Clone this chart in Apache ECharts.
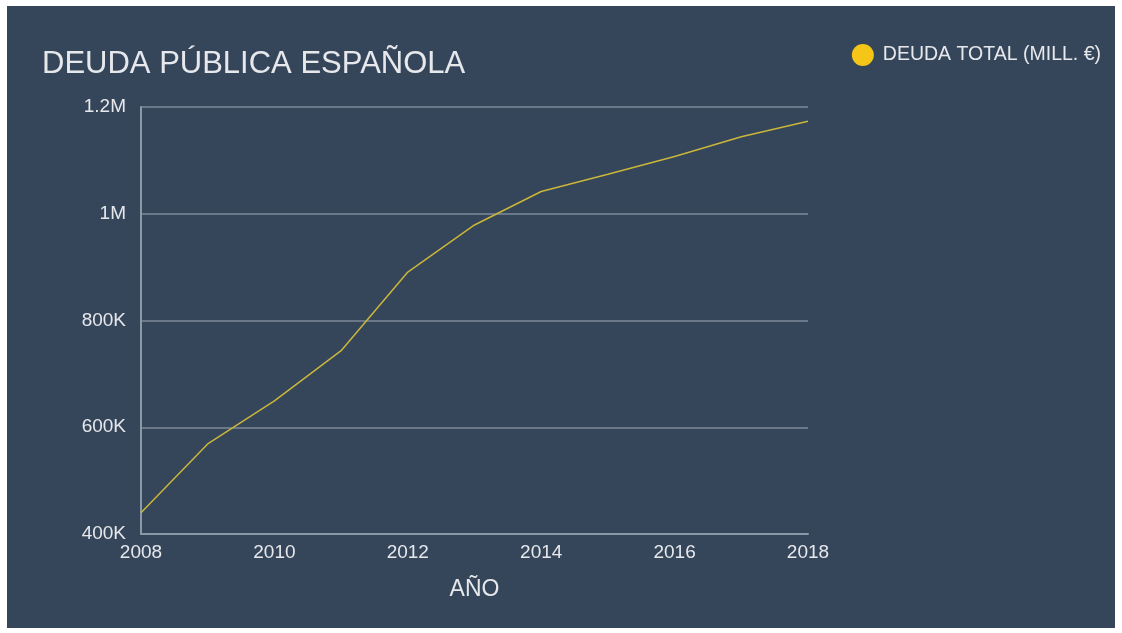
<!DOCTYPE html>
<html><head><meta charset="utf-8">
<script src="https://cdn.jsdelivr.net/npm/echarts@6/dist/echarts.min.js"></script>
<style>html,body{margin:0;padding:0;background:#fff;}#c{position:absolute;left:7px;top:6px;width:1108px;height:622px;}</style>
</head><body><div id="c"></div>
<script>
const years = [2008, 2009, 2010, 2011, 2012, 2013, 2014, 2015, 2016, 2017, 2018];
const debt = [439771, 568700, 649259, 743531, 890726, 978979, 1041624, 1073934, 1107220, 1144425, 1173349];
const yTickLabels = {400000: '400K', 600000: '600K', 800000: '800K', 1000000: '1M', 1200000: '1.2M'};
const chart = echarts.init(document.getElementById('c'));
const font = 'Liberation Sans, Arial, sans-serif';
chart.setOption({
  backgroundColor: '#36465a',
  title: { text: 'DEUDA PÚBLICA ESPAÑOLA', left: 30, top: 38, padding: 5,
    textStyle: { color: '#e6e8ec', fontSize: 31, fontWeight: 'normal', fontFamily: font } },
  legend: { right: 9, top: 33, icon: 'circle', itemWidth: 22, itemHeight: 22, itemGap: 8,
    textStyle: { color: '#e6e8ec', fontSize: 19.5, fontFamily: font, padding: [0, 0, 0, 4] } },
  grid: { left: 134, top: 101, width: 667, height: 427 },
  xAxis: { type: 'value', min: 2008, max: 2018, interval: 2,
    name: 'AÑO', nameLocation: 'middle', nameGap: 44,
    nameTextStyle: { color: '#e6e8ec', fontSize: 23, fontFamily: font },
    axisLine: { show: true, lineStyle: { color: '#8c99a8', width: 2 } },
    axisTick: { show: false }, splitLine: { show: false },
    axisLabel: { color: '#e6e8ec', fontSize: 19, fontFamily: font, margin: 9, formatter: v => String(v) } },
  yAxis: { type: 'value', min: 400000, max: 1200000, interval: 200000,
    axisLine: { show: true, lineStyle: { color: '#8c99a8', width: 2 } },
    axisTick: { show: false },
    splitLine: { lineStyle: { color: '#6b7889', width: 2 } },
    axisLabel: { color: '#e6e8ec', fontSize: 19, fontFamily: font, margin: 15, formatter: v => yTickLabels[v] || '' } },
  series: [{ name: 'DEUDA TOTAL (MILL. €)', type: 'line', data: years.map((y, i) => [y, debt[i]]),
    showSymbol: false, symbol: 'circle', itemStyle: { color: '#f5c518' },
    lineStyle: { color: '#c9b63a', width: 1.5 }, animation: false }]
});
</script></body></html>
